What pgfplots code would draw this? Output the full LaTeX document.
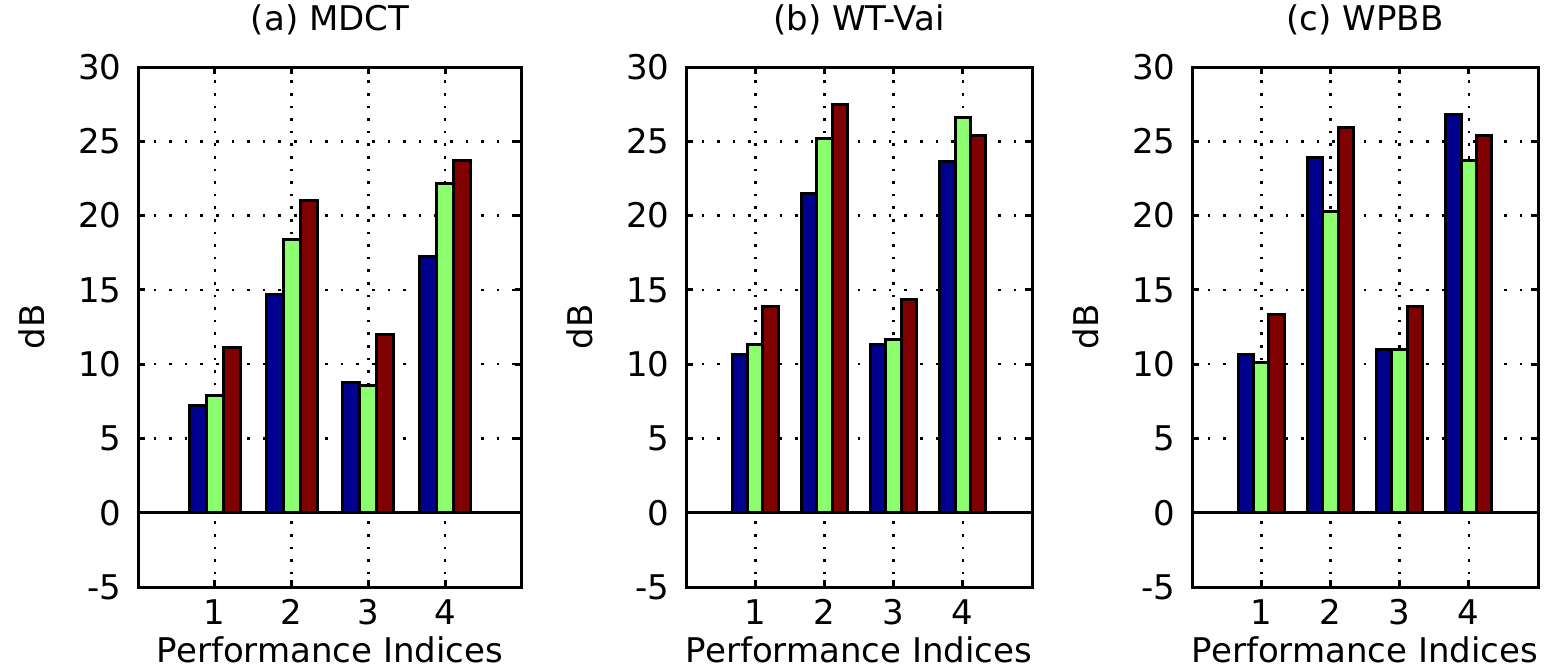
\documentclass[border=0pt]{standalone}
\usepackage{fontspec}
\setmainfont{DejaVu Sans}
\usepackage{pgfplots}
\pgfplotsset{compat=1.18}
\definecolor{cb}{RGB}{0,0,143}
\definecolor{cg}{RGB}{140,255,110}
\definecolor{cr}{RGB}{128,0,0}
\pgfplotsset{
 panel/.style={
  scale only axis, height=260pt,
  anchor=south west,
  xmin=0,xmax=5,ymin=-5,ymax=30,
  xtick={1,2,3,4}, ytick={-5,0,5,10,15,20,25,30},
  axis line style={line width=1.5pt},
  tick align=inside, major tick length=3.5pt,
  every tick/.style={black,line width=1.5pt},
  grid=major,
  x grid style={black,line width=1.3pt,dash pattern=on 1.3pt off 5pt},
  y grid style={black,line width=1.3pt,dash pattern=on 1.3pt off 6.5pt},
  ticklabel style={font=\fontsize{17}{17}\selectfont},
  /pgf/number format/assume math mode=true,
  xticklabel style={anchor=base, yshift=-18.5pt, inner sep=0pt},
  yticklabel style={anchor=east, xshift=-8pt, inner sep=0pt},
  title style={at={(axis description cs:0.5,1)}, anchor=base, yshift=12.5pt, font=\fontsize{17}{17}\selectfont, inner sep=0pt},
  xlabel style={at={(axis description cs:0.5,0)}, anchor=base, yshift=-37.5pt, font=\fontsize{17}{17}\selectfont, inner sep=0pt},
  ylabel style={at={([xshift=-53pt]axis description cs:0,0.5)}, anchor=center, rotate=0, font=\fontsize{17}{17}\selectfont, inner sep=0pt},
  xlabel={Performance Indices}, ylabel={dB},
 },
 bb/.style={ybar, bar width=0.222, bar shift=-0.222, fill=cb, draw=black, line width=1.5pt, line join=miter},
 bg/.style={ybar, bar width=0.222, bar shift=0, fill=cg, draw=black, line width=1.5pt, line join=miter},
 br/.style={ybar, bar width=0.222, bar shift=0.222, fill=cr, draw=black, line width=1.5pt, line join=miter},
 zl/.style={black, line width=1.5pt, forget plot},
}
\begin{document}
\begin{tikzpicture}
\useasboundingbox (0,0) rectangle (776pt,335pt);
\begin{axis}[panel, width=192pt, at={(69pt,41.5pt)}, title={(a) MDCT}]
\addplot[bb] coordinates {(1,7.24) (2,14.68) (3,8.74) (4,17.26)};
\addplot[bg] coordinates {(1,7.92) (2,18.42) (3,8.57) (4,22.16)};
\addplot[br] coordinates {(1,11.13) (2,21.0) (3,12.0) (4,23.70)};
\addplot[zl] coordinates {(0,0) (5,0)};
\end{axis}
\begin{axis}[panel, width=173pt, at={(343pt,41.5pt)}, title={(b) WT-Vai}]
\addplot[bb] coordinates {(1,10.62) (2,21.48) (3,11.3) (4,23.65)};
\addplot[bg] coordinates {(1,11.3) (2,25.22) (3,11.66) (4,26.6)};
\addplot[br] coordinates {(1,13.85) (2,27.47) (3,14.36) (4,25.37)};
\addplot[zl] coordinates {(0,0) (5,0)};
\end{axis}
\begin{axis}[panel, width=173pt, at={(596pt,41.5pt)}, title={(c) WPBB}]
\addplot[bb] coordinates {(1,10.62) (2,23.9) (3,10.98) (4,26.79)};
\addplot[bg] coordinates {(1,10.09) (2,20.3) (3,10.98) (4,23.7)};
\addplot[br] coordinates {(1,13.35) (2,25.9) (3,13.88) (4,25.39)};
\addplot[zl] coordinates {(0,0) (5,0)};
\end{axis}
\end{tikzpicture}
\end{document}
